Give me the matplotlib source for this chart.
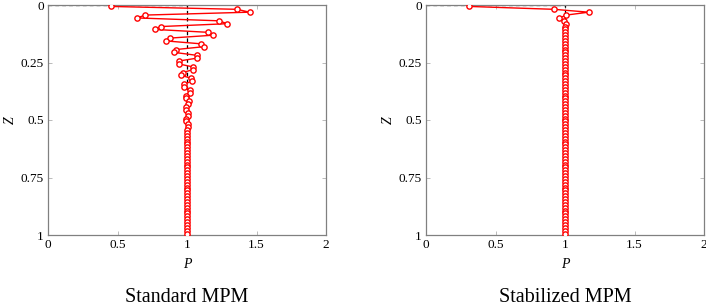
import matplotlib
matplotlib.use('Agg')
import matplotlib.pyplot as plt
import numpy as np

# Particle depths (80 particles, evenly spread over the column)
zValues = np.linspace(0.00625, 0.99375, 80)

# Pressure
standardP = [0.45,
             1.36, 1.45, 0.70, 0.64, 1.23, 1.29, 0.81, 0.77,
             1.15, 1.19, 0.88, 0.85, 1.10, 1.12, 0.92, 0.91,
             1.07, 1.07, 0.94, 0.94, 1.04, 1.04, 0.97, 0.96,
             1.03, 1.035, 0.98, 0.98, 1.02, 1.02, 0.99, 0.99,
             1.015, 1.01, 0.99, 0.992, 1.01, 1.008, 0.994, 0.995,
             1.005, 1.005, 0.997, 0.997, 1.0, 1.0, 1.0, 1.0,
             1.0, 1.0, 1.0, 1.0, 1.0, 1.0, 1.0, 1.0,
             1.0, 1.0, 1.0, 1.0, 1.0, 1.0, 1.0, 1.0,
             1.0, 1.0, 1.0, 1.0, 1.0, 1.0, 1.0, 1.0,
             1.0, 1.0, 1.0, 1.0, 1.0, 1.0, 1.0]

# Pressure
stabilizedP = [0.31,
               0.92, 1.17, 1.01, 0.96, 0.99, 1.01, 1.0, 1.0,
               1.0, 1.0, 1.0, 1.0, 1.0, 1.0, 1.0, 1.0,
               1.0, 1.0, 1.0, 1.0, 1.0, 1.0, 1.0, 1.0,
               1.0, 1.0, 1.0, 1.0, 1.0, 1.0, 1.0, 1.0,
               1.0, 1.0, 1.0, 1.0, 1.0, 1.0, 1.0, 1.0,
               1.0, 1.0, 1.0, 1.0, 1.0, 1.0, 1.0, 1.0,
               1.0, 1.0, 1.0, 1.0, 1.0, 1.0, 1.0, 1.0,
               1.0, 1.0, 1.0, 1.0, 1.0, 1.0, 1.0, 1.0,
               1.0, 1.0, 1.0, 1.0, 1.0, 1.0, 1.0, 1.0,
               1.0, 1.0, 1.0, 1.0, 1.0, 1.0, 1.0]

# Analytical solution (dashed black)
exactP = [0, 1, 1]
exactZ = [0, 0, 1]

xTicks = [0, 0.5, 1, 1.5, 2]
xTickLabels = ['0', '0.5', '1', '1.5', '2']
yTicks = [0, 0.25, 0.5, 0.75, 1]
yTickLabels = ['0', '0.25', '0.5', '0.75', '1']

titles = ['Standard MPM', 'Stabilized MPM']

plt.rcParams['font.family'] = ['Liberation Serif', 'DejaVu Serif']


def drawPanel(ax, pValues, title):
    # exact solution underneath
    ax.plot(exactP, exactZ, color='black', linestyle=(0, (3, 2.5)), linewidth=0.9, zorder=2)
    # particle values on top
    ax.plot(pValues, zValues, color='red', linewidth=1.0, marker='o', markersize=3.8,
            markerfacecolor='white', markeredgecolor='red', markeredgewidth=1.0, zorder=3)

    ax.set_xlim(0, 2)
    ax.set_ylim(1, 0)
    ax.set_xticks(xTicks)
    ax.set_xticklabels(xTickLabels)
    ax.set_yticks(yTicks)
    ax.set_yticklabels(yTickLabels)
    ax.tick_params(direction='in', top=True, right=True, length=3, width=0.6,
                   color='#b0b0b0', labelsize=9.5, pad=3)
    for spine in ax.spines.values():
        spine.set_color('#808080')
        spine.set_linewidth(0.9)

    ax.set_xlabel('P', fontstyle='italic', fontsize=10, labelpad=5)
    ax.set_ylabel('Z', fontstyle='italic', fontsize=10, va='center')
    ax.yaxis.set_label_coords(-0.137, 0.5)
    ax.text(0.5, -0.27, title, transform=ax.transAxes, ha='center', va='center', fontsize=14.5)


def main():
    fig = plt.figure(figsize=(7.06, 3.07), dpi=100)
    axLeft = fig.add_axes([48 / 706, 72 / 307, 278 / 706, 230 / 307])
    axRight = fig.add_axes([426 / 706, 72 / 307, 278 / 706, 230 / 307])

    drawPanel(axLeft, standardP, titles[0])
    drawPanel(axRight, stabilizedP, titles[1])

    fig.savefig('out.png', dpi=100)


if __name__ == '__main__':
    main()
